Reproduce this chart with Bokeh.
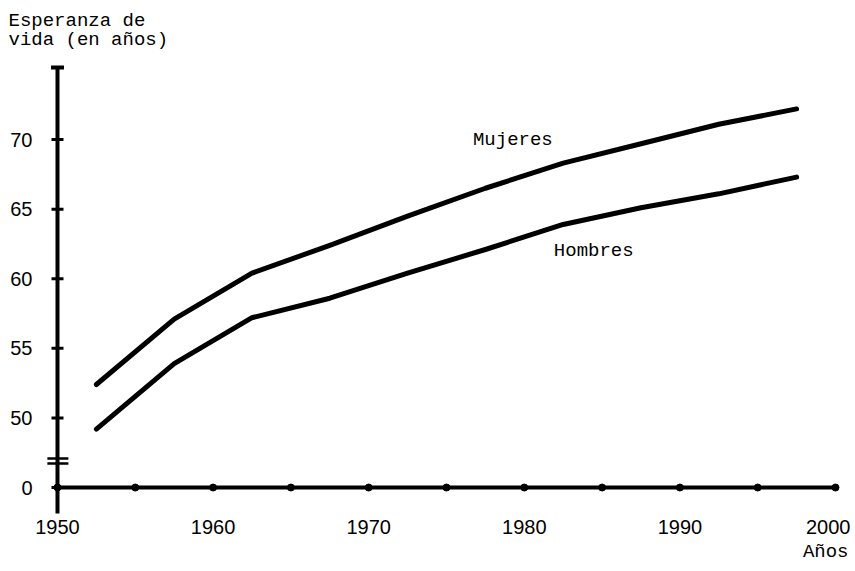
from bokeh.plotting import figure
from bokeh.models import FixedTicker, Label, Range1d, Title
from bokeh.embed import file_html
from bokeh.resources import INLINE

# Data (quinquennial midpoints)
years = [1952.5, 1957.5, 1962.5, 1967.5, 1972.5, 1977.5, 1982.5, 1987.5, 1992.5, 1997.5]
mujeres = [52.4, 57.1, 60.4, 62.4, 64.5, 66.5, 68.3, 69.7, 71.1, 72.2]
hombres = [49.2, 53.9, 57.2, 58.6, 60.4, 62.1, 63.9, 65.1, 66.1, 67.3]

x_ticks = [1950, 1955, 1960, 1965, 1970, 1975, 1980, 1985, 1990, 1995, 2000]
x_label_ticks = [1950, 1960, 1970, 1980, 1990, 2000]
# broken axis: the value 45 on the scale stands for 0
y_ticks = [45, 50, 55, 60, 65, 70]
y_labels = {45: "0"}
y_axis_top = 75.17
y_axis_bottom = 43.13
y_break = [46.72, 47.08]

MONO = "Liberation Mono"
SANS = "Liberation Sans"

p = figure(frame_width=801, frame_height=456,
           x_range=Range1d(1949.165, 2000.643), y_range=Range1d(42.99, 75.75),
           output_backend="svg", toolbar_location=None,
           min_border_left=44, min_border_right=5, min_border_top=58, min_border_bottom=56,
           background_fill_color="white", border_fill_color="white")
p.outline_line_color = None
p.grid.visible = False

# axes: only their labels are shown; the axis lines are drawn at the data positions below
xa = p.xaxis[0]
xa.ticker = FixedTicker(ticks=x_label_ticks)
xa.axis_line_color = None
xa.major_tick_line_color = None
xa.minor_tick_line_color = None
xa.major_tick_in = 0
xa.major_tick_out = 0
xa.major_label_standoff = 4
xa.major_label_text_font = SANS
xa.major_label_text_font_size = "20px"
xa.major_label_text_color = "black"

ya = p.yaxis[0]
ya.ticker = FixedTicker(ticks=y_ticks)
ya.major_label_overrides = y_labels
ya.axis_line_color = None
ya.major_tick_line_color = None
ya.minor_tick_line_color = None
ya.major_tick_in = 0
ya.major_tick_out = 0
ya.major_label_standoff = 12
ya.major_label_text_font = SANS
ya.major_label_text_font_size = "20px"
ya.major_label_text_color = "black"

x0, x1 = x_ticks[0], x_ticks[-1]
y0 = y_ticks[0]

# y axis line (extends below the x axis), ticks, top cap, break marks
p.segment(x0=[x0], y0=[y_axis_bottom], x1=[x0], y1=[y_axis_top], line_width=4, line_color="black")
p.scatter([x0] * len(y_ticks), y_ticks, marker="dash", size=12, line_width=3, line_color="black")
p.scatter([x0], [y_axis_top], marker="dash", size=13, line_width=4, line_color="black")
p.segment(x0=[x0 - 0.65] * 2, y0=y_break, x1=[x0 + 0.7] * 2, y1=y_break, line_width=2.5, line_color="black")

# x axis line with dots at every five years
p.segment(x0=[x0], y0=[y0], x1=[x1], y1=[y0], line_width=4, line_color="black")
p.scatter(x_ticks, [y0] * len(x_ticks), marker="circle", size=7, fill_color="black", line_color="black")

# series
p.line(years, mujeres, line_width=5, line_color="black", line_join="round", line_cap="round")
p.line(years, hombres, line_width=5, line_color="black", line_join="round", line_cap="round")

# series labels
p.add_layout(Label(x=1976.7, y=70.0, text="Mujeres", text_font=MONO, text_font_size="19px",
                   text_baseline="middle", text_align="left", text_color="black"))
p.add_layout(Label(x=1981.9, y=62.0, text="Hombres", text_font=MONO, text_font_size="19px",
                   text_baseline="middle", text_align="left", text_color="black"))

# axis titles
p.add_layout(Title(text="Esperanza de\nvida (en años)", align="left", offset=-36, standoff=16,
                   text_font=MONO, text_font_size="19px", text_font_style="normal",
                   text_line_height=0.88, text_color="black"), "above")
p.add_layout(Title(text="Años", align="right", offset=-3, standoff=5,
                   text_font=MONO, text_font_size="19px", text_font_style="normal",
                   text_color="black"), "below")

open("out.html", "w").write(file_html(p, INLINE))
